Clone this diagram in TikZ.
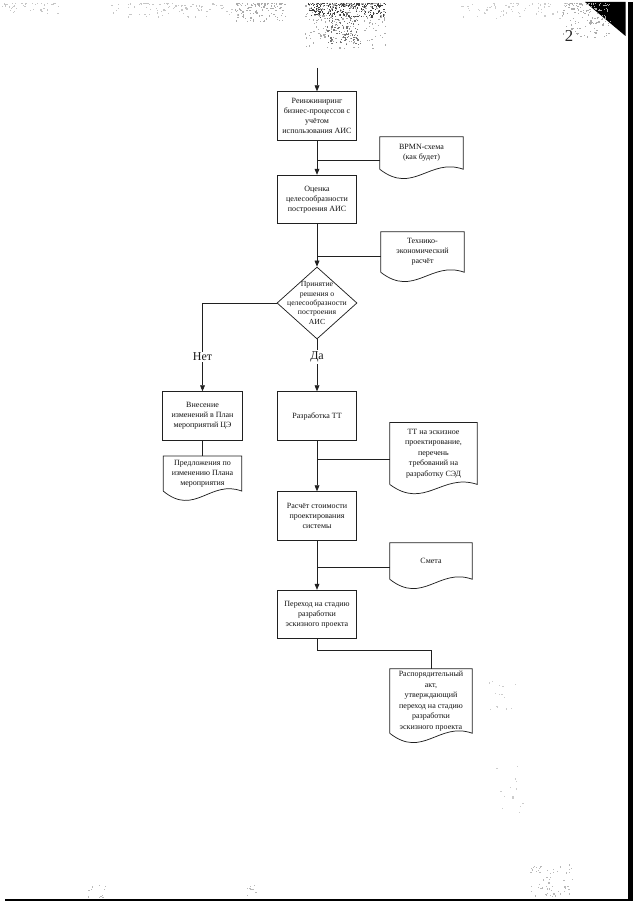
\documentclass[tikz,border=0pt]{standalone}
\usepackage{fontspec}
\setmainfont{Liberation Serif}
\usetikzlibrary{arrows.meta,shapes.geometric,calc}
\newcommand{\docoutline}[1]{%
  \draw[ln] (#1.south west) -- (#1.north west) -- (#1.north east) -- (#1.south east)
    .. controls ($(#1.south east)!0.4!(#1.south west)+(0,-12)$) and ($(#1.south east)!0.6!(#1.south west)+(0,26)$) .. (#1.south west);}
\newcommand{\speckle}[6]{%
  \foreach \k in {1,...,#1}{%
    \pgfmathsetmacro\sx{#2+#3*rnd}\pgfmathsetmacro\sy{#4+#5*rnd}%
    \fill[#6] (\sx,\sy) rectangle ++(1.2,1.2);}}
\newcommand{\specklefade}[6]{%
  \foreach \k in {1,...,#1}{%
    \pgfmathsetmacro\sx{#2+#3*rnd}\pgfmathsetmacro\sy{#4+#5*pow(rnd,2)}%
    \fill[#6] (\sx,\sy) rectangle ++(1.2,1.2);}}
\tikzset{
  ln/.style={draw=gray!25!black, line width=0.55pt},
  arr/.style={ln, -{Triangle[length=4.5pt,width=3.6pt]}},
  txt/.style={font=\fontsize{6}{7.4}\selectfont, text=gray!15!black, align=center, inner sep=0pt},
  proc/.style={ln, txt, rectangle, minimum width=59.5pt, minimum height=36.5pt},
  decision/.style={ln, diamond, minimum width=60pt, minimum height=54pt, inner sep=0pt},
  docbox/.style={txt, rectangle},
  lbl/.style={font=\fontsize{9}{10}\selectfont, text=gray!20!black, fill=white, inner sep=1pt}
}
\begin{document}
\begin{tikzpicture}[x=0.75pt,y=-0.75pt]
\useasboundingbox (0,0) rectangle (640,905);
\fill[white] (0,0) rectangle (640,905);

% scan artefacts
\pgfmathsetseed{7}
\specklefade{260}{308}{78}{3}{14}{black!75}
\specklefade{260}{305}{80}{3}{45}{gray!65}
\speckle{110}{326}{34}{12}{32}{black!55}
\specklefade{110}{235}{50}{3}{18}{gray!65}
\specklefade{90}{110}{130}{3}{14}{gray!45}
\specklefade{45}{0}{60}{3}{10}{gray!45}
\specklefade{70}{460}{110}{3}{16}{gray!40}
\fill[black] (585,2) -- (625.5,2) -- (625.5,36) -- cycle;
\specklefade{150}{562}{48}{3}{34}{gray!65}
\speckle{60}{530}{42}{864}{33}{gray!55}
\speckle{14}{485}{30}{680}{30}{gray!40}
\speckle{14}{495}{30}{765}{50}{gray!40}
\speckle{12}{85}{20}{885}{12}{gray!55}
\speckle{8}{245}{15}{885}{10}{gray!55}
\fill[black] (627.5,2) rectangle (632.5,900.5);
\fill[black] (5,898.5) rectangle (632.5,901);
\node[font=\fontsize{12.5}{14}\selectfont, text=gray!30!black, inner sep=0pt] (pg) at (569,36) {2};

% process boxes
\node[proc] (b1) at (317,116) {Реинжиниринг\\бизнес-процессов с\\учётом\\использования АИС};
\node[proc] (b2) at (317,199.5) {Оценка\\целесообразности\\построения АИС};
\node[decision] (dm) at (317,303) {};
\node[txt, font=\fontsize{5.8}{7}\selectfont] (dmt) at (dm.center) {Принятие\\решения о\\целесообразности\\построения\\АИС};
\node[proc] (b3) at (202.5,416) {Внесение\\изменений в План\\мероприятий ЦЭ};
\node[proc] (b4) at (317,416) {Разработка ТТ};
\node[proc] (b5) at (317,516) {Расчёт стоимости\\проектирования\\системы};
\node[proc] (b6) at (317,614.5) {Переход на стадию\\разработки\\эскизного проекта};

% documents
\node[docbox, minimum width=62.25pt, minimum height=24pt] (d1) at (421.5,153) {BPMN-схема\\(как будет)};
\node[docbox, minimum width=62.25pt, minimum height=30pt] (d2) at (422.5,252) {Технико-\\экономический\\расчёт};
\node[docbox, minimum width=58.5pt, minimum height=26pt] (d3) at (202.5,473.5) {Предложения по\\изменению Плана\\мероприятия};
\node[docbox, minimum width=65.25pt, minimum height=46pt, font=\fontsize{6}{7.9}\selectfont] (d4) at (433.5,453.5) {ТТ на эскизное\\проектирование,\\перечень\\требований на\\разработку СЭД};
\node[docbox, minimum width=61.5pt, minimum height=27pt] (d5) at (431,561) {Смета};
\node[docbox, minimum width=61.5pt, minimum height=48pt, font=\fontsize{6}{7.9}\selectfont] (d6) at (431,701) {Распорядительный\\акт,\\утверждающий\\переход на стадию\\разработки\\эскизного проекта};
\docoutline{d1}
\docoutline{d2}
\docoutline{d3}
\docoutline{d4}
\docoutline{d5}
\docoutline{d6}

% connectors
\coordinate (start) at (317,68);
\coordinate (j1) at (317,160);
\coordinate (j2) at (317,256);
\coordinate (j3) at (317,459);
\coordinate (j4) at (317,567);
\draw[arr] (start) -- (b1.north);
\draw[arr] (b1.south) -- (b2.north);
\draw[ln] (j1 -| d1.west) -- (j1);
\draw[arr] (b2.south) -- (dm.north);
\draw[ln] (j2 -| d2.west) -- (j2);
\draw[arr] (dm.west) -| (b3.north);
\draw[arr] (dm.south) -- (b4.north);
\node[lbl] (lnet) at (202.5,357) {Нет};
\node[lbl] (lda) at (317,357) {Да};
\draw[ln] (b3.south) -- (d3.north);
\draw[arr] (b4.south) -- (b5.north);
\draw[ln] (j3 -| d4.west) -- (j3);
\draw[arr] (b5.south) -- (b6.north);
\draw[ln] (j4 -| d5.west) -- (j4);
\draw[ln] (b6.south) -- ++(0,11) -| (d6.north);
\end{tikzpicture}
\end{document}
